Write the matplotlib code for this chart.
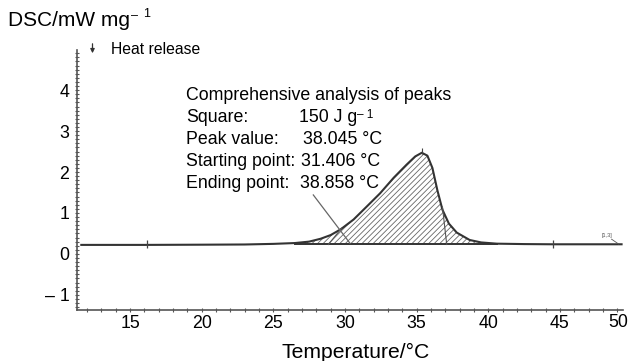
import matplotlib
matplotlib.use("Agg")
import matplotlib.pyplot as plt
from matplotlib.ticker import MultipleLocator, FixedLocator
import numpy as np

plt.rcParams['font.family'] = ['Liberation Sans', 'DejaVu Sans']
plt.rcParams['hatch.linewidth'] = 0.6

# data
temp = [11.6, 16.0, 20.0, 23.0, 25.0, 26.5, 27.5, 28.3, 29.0, 29.7, 30.6, 31.5,
        32.45, 33.4, 34.3, 34.9, 35.36, 35.75, 36.1, 36.45, 36.8, 37.25, 37.8,
        38.7, 39.5, 40.6, 42.5, 44.5, 49.3]
dsc = [0.22, 0.22, 0.225, 0.23, 0.245, 0.265, 0.30, 0.37, 0.46, 0.60, 0.84, 1.15,
       1.48, 1.86, 2.18, 2.38, 2.47, 2.40, 2.10, 1.55, 1.08, 0.74, 0.52,
       0.34, 0.28, 0.25, 0.24, 0.235, 0.235]
baseline = 0.23
peak_start, peak_end = 26.5, 40.6
y_ticks = [-1, 0, 1, 2, 3, 4]
y_ticklabels = ['– 1', '0', '1', '2', '3', '4']
x_ticks = [15, 20, 25, 30, 35, 40, 45]
ann_title = "Comprehensive analysis of peaks"
ann_labels = ["Square:", "Peak value:", "Starting point:", "Ending point:"]
ann_values = ["150 J g", "38.045 °C", "31.406 °C", "38.858 °C"]

W, H = 628, 361
fig = plt.figure(figsize=(W / 100, H / 100), dpi=100)
ax = fig.add_axes([77 / W, 1 - 310 / H, (623 - 77) / W, (310 - 50) / H])
ax.set_xlim(11.3, 49.4)
ax.set_ylim(-1.37, 4.98)

axc = '#555555'
for s in ['top', 'right']:
    ax.spines[s].set_visible(False)
for s in ['left', 'bottom']:
    ax.spines[s].set_color(axc)
    ax.spines[s].set_linewidth(1.2)

ax.xaxis.set_major_locator(FixedLocator(x_ticks))
ax.xaxis.set_minor_locator(MultipleLocator(1))
ax.yaxis.set_major_locator(FixedLocator(y_ticks))
ax.yaxis.set_minor_locator(MultipleLocator(0.1))
ax.set_yticklabels(y_ticklabels)
ax.tick_params(which='both', direction='inout', color=axc, width=0.8, length=3)
ax.tick_params(axis='x', labelsize=12.8, pad=2)
ax.tick_params(axis='y', labelsize=12.8, pad=4)

# hatched peak area
xs = np.array(temp)
ys = np.array(dsc)
mask = (xs >= peak_start) & (xs <= peak_end)
ax.fill_between(xs[mask], ys[mask], baseline, facecolor='none', edgecolor='#666666',
                hatch='//////', linewidth=0)
ax.plot([peak_start, peak_end], [baseline, baseline], color='#333333', lw=1.4)

# curve
ax.plot(temp, dsc, color='#333333', lw=1.5, solid_joinstyle='round')

# construction lines
ax.plot([28.84, 29.77], [baseline, 0.63], color='#555555', lw=0.8)
ax.plot([37.1, 36.8], [baseline, 1.15], color='#555555', lw=0.8)
ax.plot([27.79, 30.35], [1.44, 0.26], color='#666666', lw=0.9)
# markers on the baseline
ax.plot([16.2, 44.5], [baseline, baseline], ls='none', marker='|', ms=6,
        color='#444444', mew=0.9)
ax.plot([35.36], [2.52], ls='none', marker='|', ms=4, color='#444444', mew=0.8)
ax.text(48.3, 0.45, "[1,3]", fontsize=4, color='#555555', ha='center', va='center')
ax.plot([48.6, 49.1], [0.36, 0.24], color='#555555', lw=0.6)


def fy(py):
    return 1 - py / H


def fx(px):
    return px / W


# "50" tick label sits beyond the axis end
fig.text(fx(618), fy(322.5), "50", fontsize=12.8, ha='center', va='center')

# axis labels
fig.text(fx(356), fy(352), "Temperature/°C", fontsize=15.2, ha='center', va='center')
fig.text(fx(8), fy(21), "DSC/mW mg", fontsize=15, ha='left', va='center')
fig.text(fx(131), fy(16), "–", fontsize=9, ha='left', va='center')
fig.text(fx(143), fy(14), "1", fontsize=9, ha='left', va='center')

# heat release
fig.add_artist(matplotlib.patches.FancyArrowPatch(
    (fx(92.5), fy(41)), (fx(92.5), fy(56)), transform=fig.transFigure,
    arrowstyle='-|>', mutation_scale=6, color='#333333', lw=0.9))
fig.text(fx(111), fy(50), "Heat release", fontsize=11.3, ha='left', va='center')

# annotation block
fs = 12.8
fig.text(fx(186), fy(100.3), ann_title, fontsize=fs, ha='left', va='baseline')
base_y = [122.3, 144.3, 166.5, 188]
val_x = [299, 302.7, 300.7, 300]
for lab, val, by, vx in zip(ann_labels, ann_values, base_y, val_x):
    fig.text(fx(186), fy(by), lab, fontsize=fs, ha='left', va='baseline')
    fig.text(fx(vx), fy(by), val, fontsize=fs, ha='left', va='baseline')
fig.text(fx(357), fy(117.5), "– 1", fontsize=8.5, ha='left', va='baseline')

fig.savefig("out.png", dpi=100)
